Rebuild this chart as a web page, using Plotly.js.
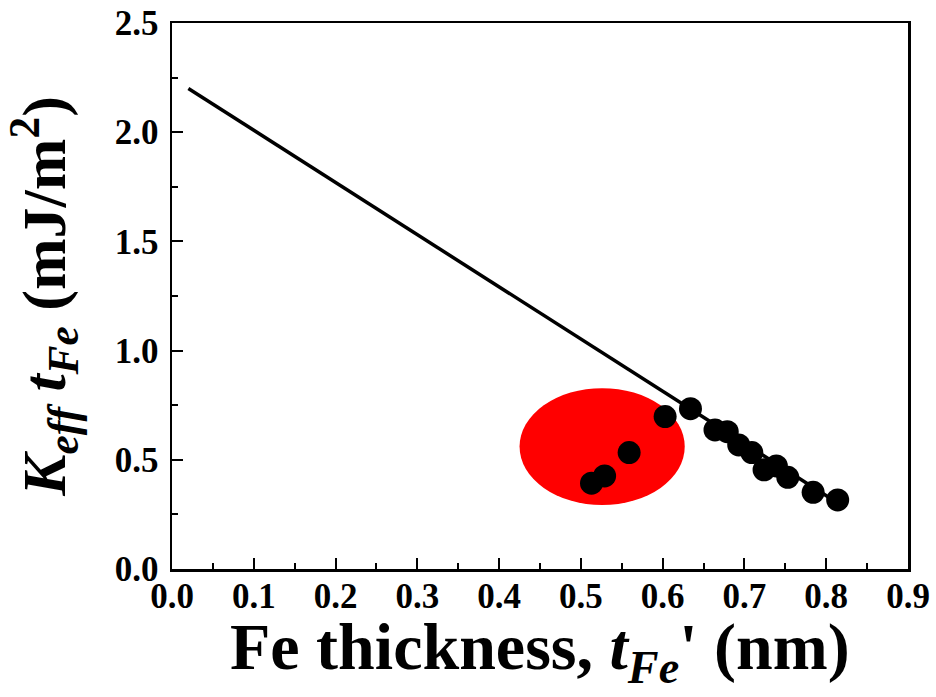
<!DOCTYPE html>
<html>
<head>
<meta charset="utf-8">
<script src="https://cdn.plot.ly/plotly-3.0.1.min.js"></script>
<style>html,body{margin:0;padding:0;background:#fff;}#chart{width:936px;height:697px;}</style>
</head>
<body>
<div id="chart"></div>
<script>
// Measured data: Fe thickness (nm) and K_eff * t_Fe (mJ/m^2)
const thickness = [0.513, 0.529, 0.559, 0.603, 0.634, 0.664, 0.679, 0.693, 0.709, 0.724, 0.739, 0.753, 0.784, 0.814];
const kefft = [0.393, 0.426, 0.533, 0.698, 0.734, 0.637, 0.629, 0.568, 0.533, 0.454, 0.472, 0.420, 0.351, 0.316];
// Linear fit line endpoints
const fitX = [0.02, 0.815];
const fitY = [2.20, 0.30];
// Highlighted region (ellipse bounds)
const regionX = [0.425, 0.627];
const regionY = [0.293, 0.828];
// Tick values
const xTicks = [0.0, 0.1, 0.2, 0.3, 0.4, 0.5, 0.6, 0.7, 0.8, 0.9];
const yTicks = [0.0, 0.5, 1.0, 1.5, 2.0, 2.5];
// Titles
const xTitle = 'Fe thickness, <i>t<sub>Fe</sub></i>\' (nm)';
const yTitle = '<i>K<sub>eff</sub> t<sub>Fe</sub></i> (mJ/m<sup>2</sup>)';

const font = 'Liberation Serif, Times New Roman, serif';

const traces = [
  {x: fitX, y: fitY, mode: 'lines', type: 'scatter',
   line: {color: '#000', width: 3.5}, showlegend: false, hoverinfo: 'skip'},
  {x: thickness, y: kefft, mode: 'markers', type: 'scatter',
   marker: {color: '#000', size: 23, line: {width: 0}}, showlegend: false}
];

const axisCommon = {
  showgrid: false, zeroline: false, showline: true, linecolor: '#000', linewidth: 2.5,
  mirror: true, ticks: 'inside', ticklen: 11, tickwidth: 2, tickcolor: '#000',
  tickfont: {family: font, size: 35, color: '#000', weight: 'bold'},
  minor: {ticks: 'inside', ticklen: 6, tickwidth: 2, tickcolor: '#000', showgrid: false}
};

const layout = {
  width: 936, height: 697,
  margin: {l: 172, r: 28, t: 23, b: 128},
  paper_bgcolor: '#fff', plot_bgcolor: '#fff',
  font: {family: font, color: '#000'},
  xaxis: Object.assign({}, axisCommon, {
    range: [0, 0.9], tickvals: xTicks, ticktext: xTicks.map(v => v.toFixed(1)),
    minor: Object.assign({}, axisCommon.minor, {dtick: 0.05, tick0: 0}),
    ticklabelstandoff: -6
  }),
  yaxis: Object.assign({}, axisCommon, {
    range: [0, 2.5], tickvals: yTicks, ticktext: yTicks.map(v => v.toFixed(1)),
    minor: Object.assign({}, axisCommon.minor, {dtick: 0.25, tick0: 0}),
    ticklabelstandoff: 4,
    title: {text: yTitle, font: {family: font, size: 62, weight: 'bold', color: '#000'}, standoff: 29}
  }),
  annotations: [{
    text: xTitle, xref: 'paper', yref: 'paper', x: 0.5, y: -0.152,
    xanchor: 'center', yanchor: 'middle', showarrow: false,
    font: {family: font, size: 66, weight: 'bold', color: '#000'}
  }],
  shapes: [{
    type: 'circle', xref: 'x', yref: 'y', layer: 'below',
    x0: regionX[0], x1: regionX[1], y0: regionY[0], y1: regionY[1],
    fillcolor: '#ff0000', line: {width: 0}
  }]
};

Plotly.newPlot('chart', traces, layout, {displayModeBar: false, staticPlot: true});
</script>
</body>
</html>
